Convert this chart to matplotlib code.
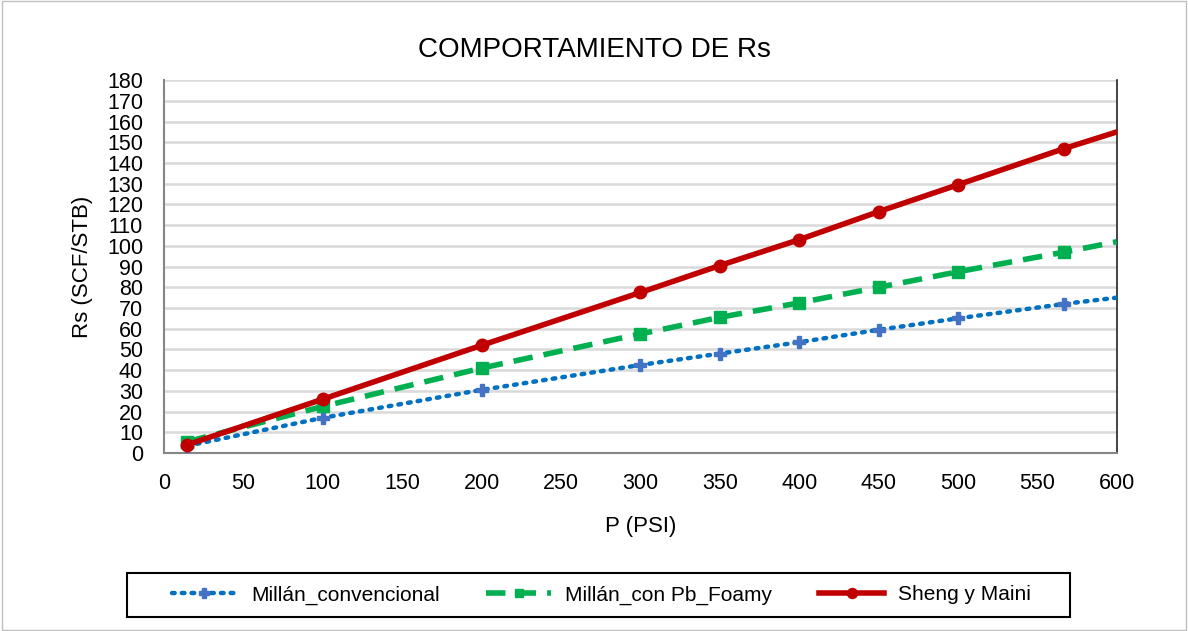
import matplotlib.pyplot as plt
from matplotlib.patches import Rectangle

plt.rcParams['font.family'] = ['Liberation Sans', 'DejaVu Sans']

# data
p = [14.7, 100, 200, 300, 350, 400, 450, 500, 567, 600]
rs_conv = [3.5, 17, 30.5, 42.5, 48, 53.5, 59.5, 65, 72, 75]
rs_foamy = [5.5, 22.5, 41, 57.5, 65.5, 72.5, 80, 87.5, 97, 102]
rs_sheng = [4, 26, 52, 77.5, 90.5, 103, 116.5, 129.5, 147, 155]
labels = ['Millán_convencional', 'Millán_con Pb_Foamy', 'Sheng y Maini']

fig = plt.figure(figsize=(11.88, 6.31), dpi=100)
ax = fig.add_axes([0.138, 0.282, 0.802, 0.591])

marks = list(range(len(p) - 1))
ax.plot(p, rs_conv, color='#0070c0', linestyle=(0, (0.6, 1.6)), lw=3.2,
        dash_capstyle='round', marker='P', ms=8.5, mfc='#4472c4', mec='#4472c4',
        markevery=marks, label=labels[0], zorder=3)
ax.plot(p, rs_foamy, color='#00b050', linestyle=(0, (3.5, 2)), lw=4,
        marker='s', ms=8, mfc='#00b050', mec='#00b050',
        markevery=marks, label=labels[1], zorder=4)
ax.plot(p, rs_sheng, color='#c00000', linestyle='-', lw=4,
        marker='o', ms=9, mfc='#c00000', mec='#c00000',
        markevery=marks, label=labels[2], zorder=5)

ax.set_xlim(0, 600)
ax.set_ylim(0, 180)
ax.set_xticks(range(0, 601, 50))
ax.set_yticks(range(0, 181, 10))
ax.tick_params(labelsize=15.5, length=0)
ax.tick_params(axis='x', pad=14)
ax.tick_params(axis='y', pad=15)
ax.grid(axis='y', color='#d9d9d9', lw=1.8)
ax.set_axisbelow(True)
for s in ['left', 'bottom']:
    ax.spines[s].set_color('#868686')
    ax.spines[s].set_linewidth(1.5)
ax.spines['top'].set_visible(False)
ax.spines['right'].set_color('#222222')
ax.spines['right'].set_linewidth(1.2)

ax.set_xlabel('P (PSI)', fontsize=16, labelpad=16)
ax.set_ylabel('Rs (SCF/STB)', fontsize=16, labelpad=10)
fig.text(0.5, 0.921, 'COMPORTAMIENTO DE Rs', ha='center', va='center', fontsize=20)

leg = fig.legend(loc='center', bbox_to_anchor=(0.5063, 0.057), ncol=3,
                 fontsize=15, frameon=False,
                 handlelength=3.1, handletextpad=0.7, columnspacing=2.25,
                 borderpad=0.5, borderaxespad=0, markerscale=0.8)

# legend box, drawn separately so it can be wider than the entries
fig.patches.append(Rectangle((0.1069, 0.0222), 0.7938, 0.0697, transform=fig.transFigure,
                             fill=False, edgecolor='black', lw=1.5))
fig.patches.append(Rectangle((0.002, 0.002), 0.996, 0.996, transform=fig.transFigure,
                             fill=False, edgecolor='#bfbfbf', lw=1))

fig.savefig('out.png', dpi=100)
